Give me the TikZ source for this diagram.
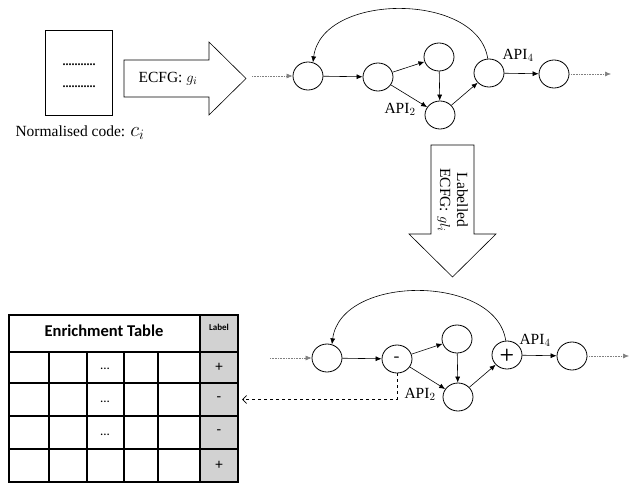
\documentclass[tikz,border=0pt]{standalone}
\usepackage{fontspec}
\setmainfont{Liberation Serif}
\newfontfamily\tablefont{Carlito}
\usetikzlibrary{arrows.meta,shapes.geometric}

\definecolor{labelgray}{RGB}{210,210,210}
\tikzset{
  state/.style={ellipse, draw, thick, minimum width=30pt, minimum height=28pt, inner sep=0pt, font=\sffamily\bfseries\fontsize{17}{17}\selectfont},
  flow/.style={draw, semithick, -{Latex[length=6pt,width=5pt]}},
  ends/.style={draw, gray, densely dotted, semithick, -{Latex[length=6pt,width=5pt]}},
  bigarrow/.style={draw, semithick, fill=white},
  txt/.style={font=\fontsize{15.5}{17}\selectfont, inner sep=1pt},
  tableline/.style={line width=1.4pt},
  signcell/.style={minimum width=38pt, minimum height=32pt, inner sep=0pt, font=\tablefont\fontsize{15}{15}\selectfont}
}

\begin{document}
\begin{tikzpicture}[x=1pt, y=-1pt]
    \useasboundingbox (0,0) rectangle (631,484);

    % normalised code
    \draw[semithick] (45,30) rectangle (112,115);
    \node[font=\bfseries\fontsize{12}{12}\selectfont, inner sep=0pt] (dots1) at (79,65) {...........};
    \node[font=\bfseries\fontsize{12}{12}\selectfont, inner sep=0pt] (dots2) at (79,87) {...........};
    \node[txt] (code) at (80,133) {Normalised code: {\fontsize{21}{21}\selectfont$c_i$}};

    % ECFG arrow
    \draw[bigarrow] (124,60) -- (209,60) -- (209,42) -- (246,78.5) -- (209,115) -- (209,97) -- (124,97) -- cycle;
    \node[txt] (ecfg) at (168,79) {ECFG: $g_i$};

    % ECFG graph
    \coordinate (in1) at (252,76);
    \node[state] (a1) at (308,76) {};
    \node[state] (b1) at (378,77) {};
    \node[state] (c1) at (439,57) {};
    \node[state] (d1) at (440,115) {};
    \node[state] (e1) at (489,73) {};
    \node[state] (f1) at (554,74) {};
    \coordinate (out1) at (611,74);

    \draw[ends] (in1) -- (a1);
    \draw[flow] (a1) -- (b1);
    \draw[flow] (b1) -- (c1);
    \draw[flow] (b1) -- (d1);
    \draw[flow] (c1) -- (d1);
    \draw[flow] (d1) -- (e1);
    \draw[flow] (e1) -- (f1);
    \draw[ends] (f1) -- (out1);
    \draw[flow] (e1.95) .. controls (478,-8) and (322,-8) .. (a1.70);
    \node[txt] (api4a) at (518,55) {API$_4$};
    \node[txt] (api2a) at (400,109) {API$_2$};

    % labelled arrow
    \draw[bigarrow] (431,145) -- (474,145) -- (474,234) -- (496,234) -- (452.5,277) -- (409,234) -- (431,234) -- cycle;
    \node[txt, rotate=-90, align=center] (lecfg) at (452.5,200) {Labelled\\ECFG: $gl_i$};

    % labelled graph
    \coordinate (in2) at (270,358);
    \node[state] (a2) at (327,358) {};
    \node[state] (b2) at (397,359) {-};
    \node[state] (c2) at (457,339) {};
    \node[state] (d2) at (458,397) {};
    \node[state] (e2) at (507,355) {+};
    \node[state] (f2) at (572,356) {};
    \coordinate (out2) at (629,356);

    \draw[ends] (in2) -- (a2);
    \draw[flow] (a2) -- (b2);
    \draw[flow] (b2) -- (c2);
    \draw[flow] (b2) -- (d2);
    \draw[flow] (c2) -- (d2);
    \draw[flow] (d2) -- (e2);
    \draw[flow] (e2) -- (f2);
    \draw[ends] (f2) -- (out2);
    \draw[flow] (e2.95) .. controls (496,274) and (341,274) .. (a2.70);
    \node[txt] (api4b) at (535,340) {API$_4$};
    \node[txt] (api2b) at (420,394) {API$_2$};

    % enrichment table
    \fill[labelgray] (200,315) rectangle (238,482);
    \draw[tableline] (9,315) rectangle (238,482);
    \foreach \y in {352,383,416,449} \draw[tableline] (9,\y) -- (238,\y);
    \draw[tableline] (200,315) -- (200,482);
    \foreach \x in {49,87,124,158} \draw[tableline] (\x,352) -- (\x,482);
    \node[font=\tablefont\bfseries\fontsize{16.5}{16}\selectfont] (title) at (104,331) {Enrichment Table};
    \node[font=\tablefont\bfseries\fontsize{9}{9}\selectfont] (labhead) at (219,327) {Label};
    \node[signcell] (lab1) at (219,367.5) {+};
    \node[signcell] (lab2) at (219,399.5) {-};
    \node[signcell] (lab3) at (219,432.5) {-};
    \node[signcell] (lab4) at (219,465.5) {+};
    \node[font=\tablefont\fontsize{13}{13}\selectfont] (dots3) at (105,369) {...};
    \node[font=\tablefont\fontsize{13}{13}\selectfont] (dots4) at (105,402) {...};
    \node[font=\tablefont\fontsize{13}{13}\selectfont] (dots5) at (105,435) {...};

    \draw[dashed, semithick, -{Straight Barb[length=4pt,width=8pt]}, shorten >=4pt] (b2.south) |- (lab2.east);
\end{tikzpicture}
\end{document}
